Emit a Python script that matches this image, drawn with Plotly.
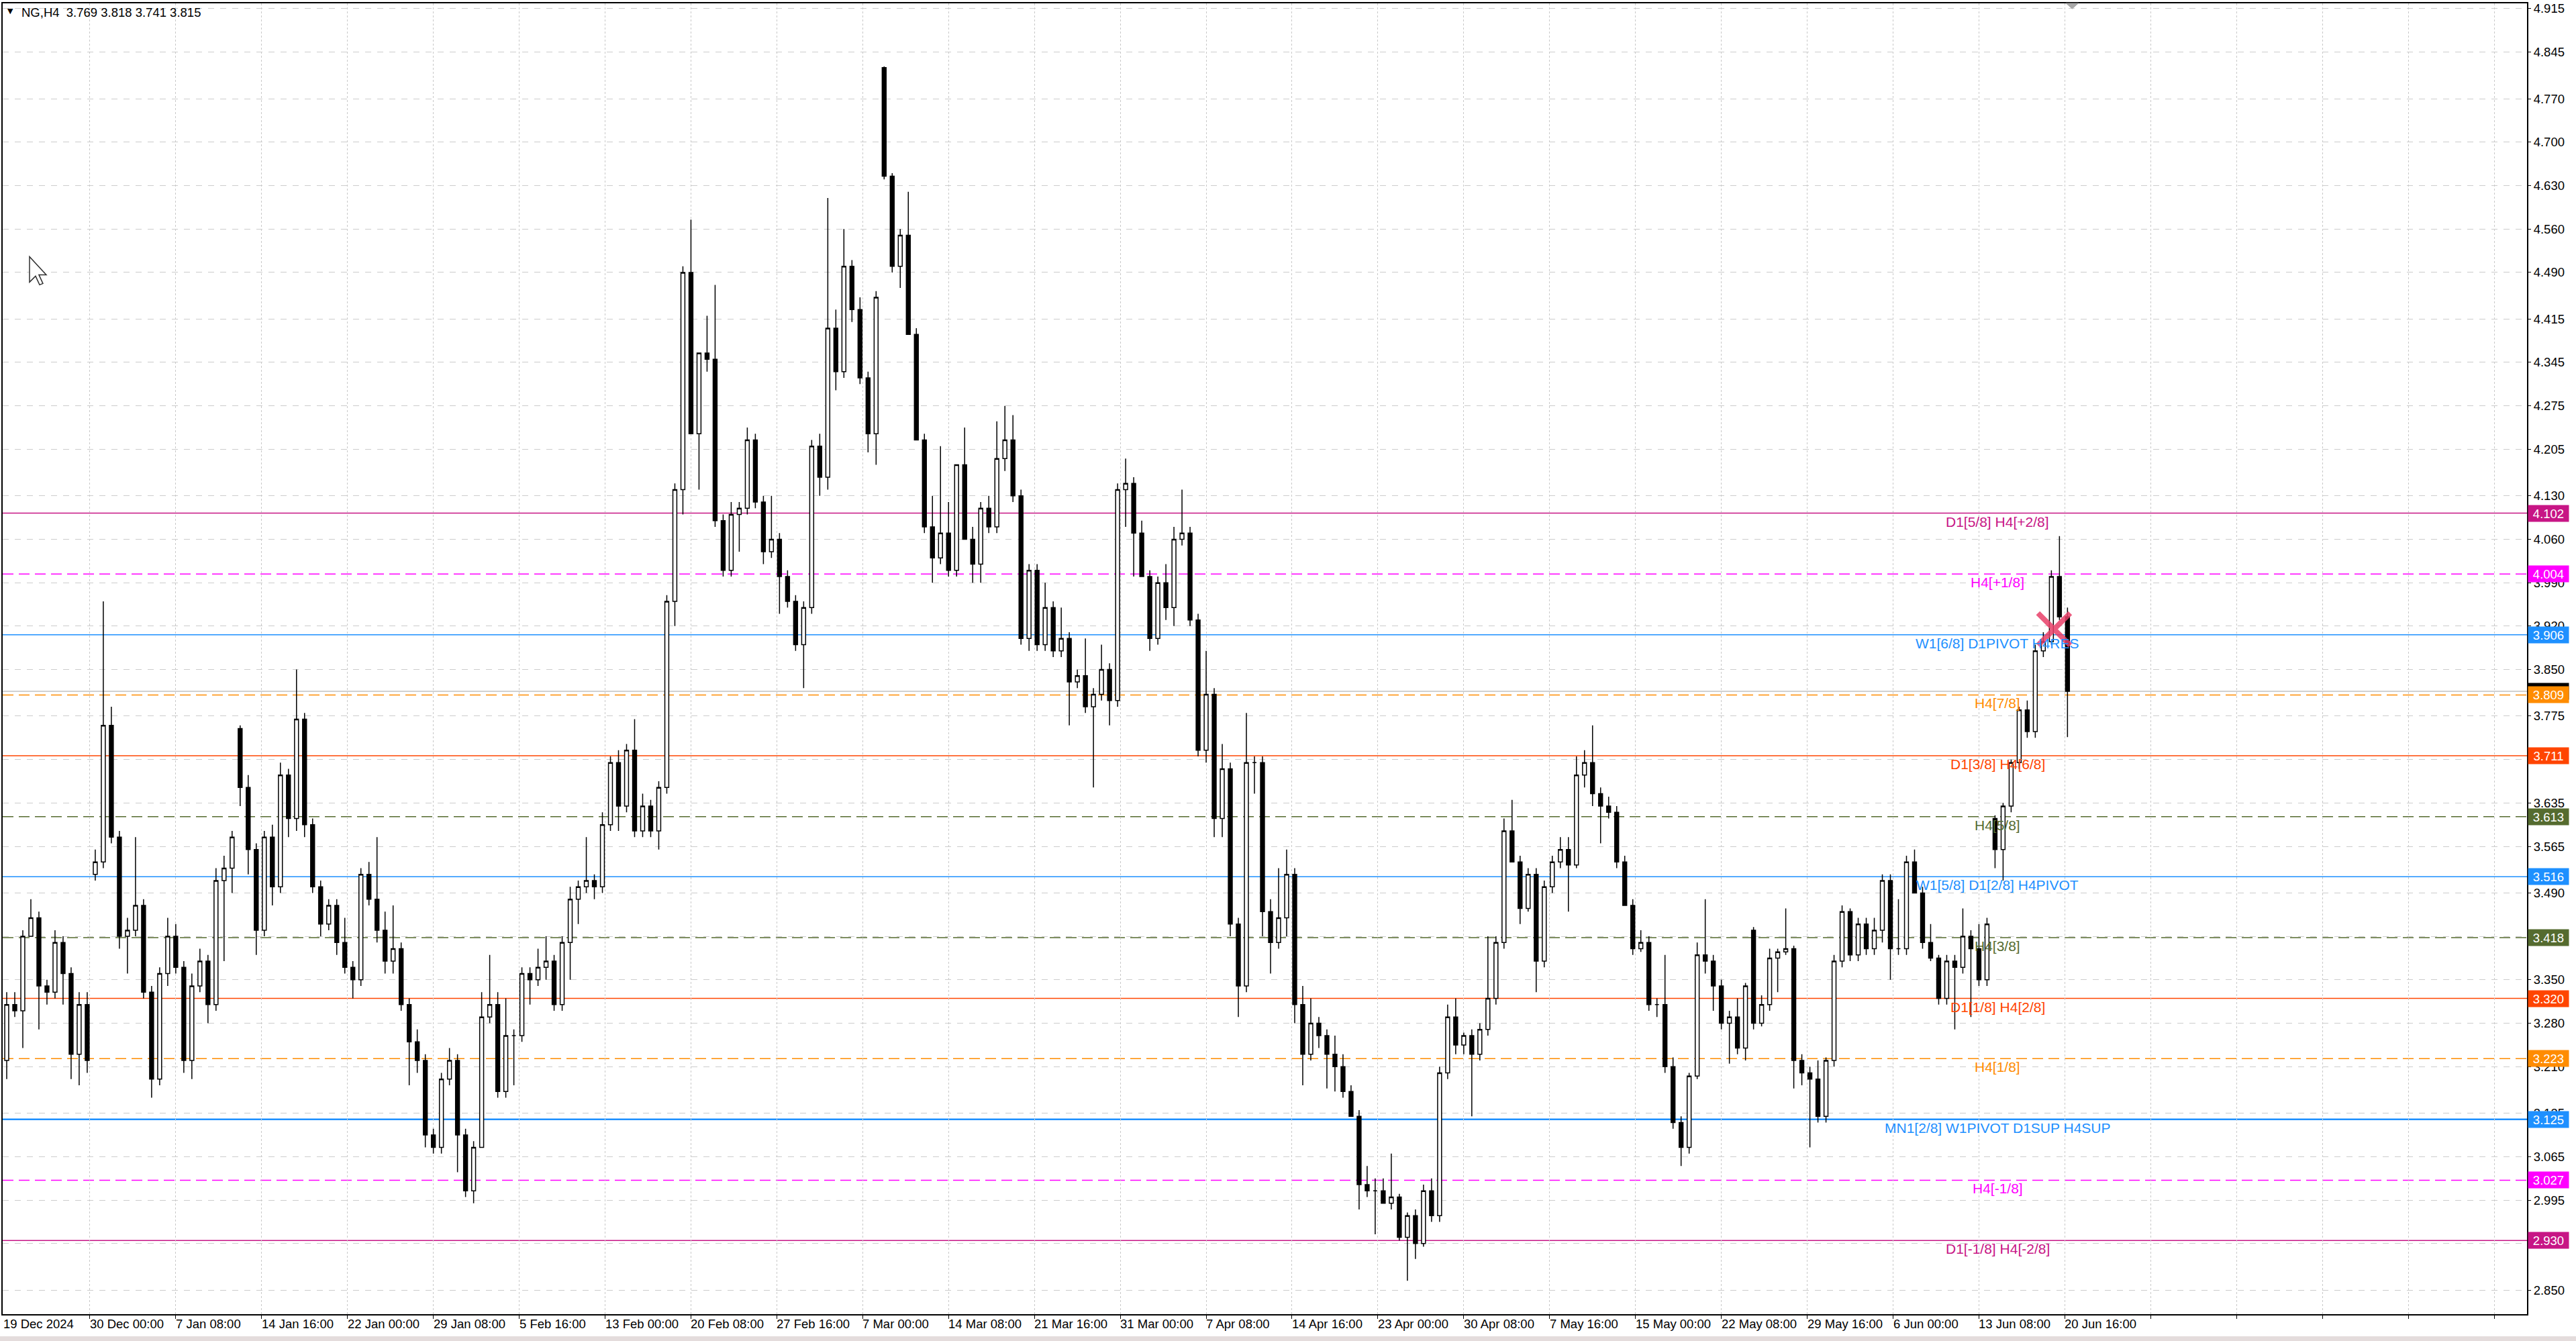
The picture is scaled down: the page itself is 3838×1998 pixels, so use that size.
import plotly.graph_objects as go

# NG, H4 candles (each candle here groups three H4 bars)
opens = [
    3.22, 3.31, 3.30, 3.42, 3.45, 3.34, 3.33, 3.41, 3.36, 3.23,
    3.31, 3.52, 3.54, 3.76, 3.58, 3.42, 3.43, 3.47, 3.33, 3.19,
    3.36, 3.42, 3.37, 3.22, 3.34, 3.38, 3.31, 3.51, 3.53, 3.755,
    3.66, 3.56, 3.43, 3.58, 3.50, 3.68, 3.61, 3.77, 3.60, 3.50,
    3.44, 3.47, 3.41, 3.37, 3.35, 3.52, 3.48, 3.43, 3.38, 3.40,
    3.31, 3.25, 3.22, 3.10, 3.08, 3.19, 3.22, 3.10, 3.01, 3.08,
    3.29, 3.31, 3.17, 3.26, 3.26, 3.36, 3.35, 3.37, 3.38, 3.31,
    3.41, 3.48, 3.50, 3.51, 3.50, 3.60, 3.70, 3.63, 3.72, 3.59,
    3.63, 3.59, 3.66, 3.96, 4.14, 4.49, 4.23, 4.36, 4.35, 4.09,
    4.01, 4.10, 4.11, 4.22, 4.12, 4.04, 4.06, 4.00, 3.96, 3.89,
    3.95, 4.21, 4.16, 4.40, 4.33, 4.50, 4.43, 4.32, 4.23, 4.82,
    4.645, 4.50, 4.55, 4.39, 4.22, 4.08, 4.03, 4.07, 4.01, 4.18,
    4.06, 4.02, 4.11, 4.08, 4.19, 4.22, 4.13, 3.90, 4.01, 3.89,
    3.95, 3.88, 3.90, 3.83, 3.84, 3.79, 3.81, 3.85, 3.80, 4.14,
    4.15, 4.07, 4.00, 3.90, 3.99, 3.95, 4.06, 4.07, 3.93, 3.72,
    3.81, 3.61, 3.69, 3.44, 3.34, 3.70, 3.70, 3.46, 3.41, 3.45,
    3.52, 3.31, 3.23, 3.28, 3.26, 3.23, 3.21, 3.17, 3.13, 3.02,
    3.01, 3.01, 2.99, 3.00, 2.935, 2.97, 2.925, 3.01, 2.97, 3.20,
    3.29, 3.245, 3.26, 3.23, 3.27, 3.32, 3.41, 3.59, 3.54, 3.465,
    3.52, 3.38, 3.50, 3.54, 3.56, 3.535, 3.68, 3.70, 3.65, 3.63,
    3.62, 3.54, 3.47, 3.40, 3.41, 3.31, 3.31, 3.21, 3.12, 3.08,
    3.195, 3.39, 3.38, 3.34, 3.28, 3.29, 3.24, 3.43, 3.28, 3.31,
    3.385, 3.395, 3.40, 3.22, 3.20, 3.19, 3.13, 3.22, 3.38, 3.46,
    3.39, 3.44, 3.40, 3.43, 3.51, 3.40, 3.40, 3.54, 3.49, 3.41,
    3.385, 3.32, 3.38, 3.37, 3.42, 3.40, 3.35, 3.61, 3.56, 3.63,
    3.70, 3.785, 3.75, 3.88, 3.895, 4.00, 3.935,
]
highs = [
    3.33, 3.33, 3.43, 3.48, 3.46, 3.35, 3.43, 3.42, 3.37, 3.33,
    3.33, 3.56, 3.96, 3.79, 3.59, 3.45, 3.58, 3.48, 3.34, 3.37,
    3.45, 3.44, 3.38, 3.36, 3.40, 3.39, 3.53, 3.55, 3.59, 3.76,
    3.68, 3.57, 3.59, 3.60, 3.70, 3.69, 3.85, 3.78, 3.61, 3.51,
    3.48, 3.48, 3.45, 3.38, 3.53, 3.54, 3.58, 3.46, 3.47, 3.41,
    3.32, 3.27, 3.23, 3.11, 3.20, 3.24, 3.23, 3.11, 3.09, 3.33,
    3.39, 3.33, 3.32, 3.27, 3.37, 3.37, 3.40, 3.42, 3.39, 3.42,
    3.50, 3.51, 3.58, 3.52, 3.62, 3.71, 3.72, 3.73, 3.77, 3.65,
    3.64, 3.67, 3.97, 4.15, 4.50, 4.575, 4.36, 4.42, 4.47, 4.10,
    4.12, 4.12, 4.24, 4.23, 4.13, 4.13, 4.07, 4.01, 3.97, 3.96,
    4.22, 4.23, 4.61, 4.43, 4.56, 4.51, 4.45, 4.33, 4.46, 4.822,
    4.65, 4.56, 4.62, 4.40, 4.23, 4.13, 4.21, 4.12, 4.18, 4.24,
    4.08, 4.12, 4.13, 4.25, 4.275, 4.26, 4.14, 4.02, 4.02, 3.99,
    3.96, 3.95, 3.91, 3.85, 3.90, 3.82, 3.89, 3.86, 4.15, 4.19,
    4.16, 4.09, 4.01, 4.00, 4.02, 4.08, 4.14, 4.08, 3.94, 3.88,
    3.82, 3.73, 3.70, 3.45, 3.78, 3.71, 3.71, 3.48, 3.53, 3.56,
    3.53, 3.34, 3.32, 3.29, 3.27, 3.26, 3.23, 3.18, 3.14, 3.05,
    3.03, 3.03, 3.07, 3.005, 2.975, 2.98, 3.02, 3.03, 3.21, 3.31,
    3.32, 3.265, 3.27, 3.28, 3.42, 3.42, 3.61, 3.64, 3.55, 3.53,
    3.53, 3.51, 3.55, 3.58, 3.58, 3.71, 3.72, 3.76, 3.66, 3.645,
    3.63, 3.55, 3.48, 3.43, 3.42, 3.32, 3.39, 3.225, 3.13, 3.20,
    3.41, 3.48, 3.39, 3.35, 3.30, 3.32, 3.345, 3.435, 3.325, 3.40,
    3.40, 3.465, 3.405, 3.23, 3.21, 3.22, 3.225, 3.39, 3.47, 3.465,
    3.45, 3.45, 3.45, 3.52, 3.52, 3.48, 3.55, 3.56, 3.50, 3.44,
    3.39, 3.39, 3.39, 3.465, 3.43, 3.44, 3.45, 3.615, 3.635, 3.705,
    3.79, 3.80, 3.89, 3.91, 4.01, 4.065, 3.95,
]
lows = [
    3.19, 3.29, 3.24, 3.42, 3.27, 3.31, 3.32, 3.31, 3.19, 3.18,
    3.20, 3.51, 3.53, 3.57, 3.40, 3.36, 3.42, 3.32, 3.16, 3.18,
    3.34, 3.36, 3.20, 3.19, 3.33, 3.28, 3.30, 3.38, 3.49, 3.63,
    3.52, 3.39, 3.42, 3.47, 3.49, 3.58, 3.59, 3.58, 3.49, 3.42,
    3.43, 3.39, 3.36, 3.32, 3.34, 3.47, 3.41, 3.36, 3.36, 3.30,
    3.18, 3.20, 3.08, 3.07, 3.07, 3.18, 3.04, 3.00, 2.99, 3.08,
    3.28, 3.16, 3.16, 3.18, 3.25, 3.31, 3.34, 3.35, 3.30, 3.30,
    3.35, 3.44, 3.49, 3.48, 3.49, 3.59, 3.59, 3.62, 3.58, 3.58,
    3.58, 3.56, 3.65, 3.92, 4.10, 4.23, 4.14, 4.33, 4.08, 4.00,
    4.00, 4.04, 4.10, 4.11, 4.02, 4.03, 3.94, 3.95, 3.88, 3.82,
    3.94, 4.13, 4.14, 4.30, 4.32, 4.41, 4.31, 4.20, 4.18, 4.64,
    4.49, 4.465, 4.39, 4.22, 4.07, 3.99, 4.02, 4.00, 4.00, 4.06,
    3.99, 3.99, 4.07, 4.07, 4.17, 4.12, 3.89, 3.88, 3.88, 3.88,
    3.87, 3.87, 3.76, 3.82, 3.78, 3.66, 3.80, 3.76, 3.79, 4.08,
    4.00, 4.00, 3.88, 3.89, 3.93, 3.92, 4.05, 3.92, 3.71, 3.70,
    3.58, 3.58, 3.42, 3.29, 3.33, 3.65, 3.42, 3.36, 3.40, 3.42,
    3.28, 3.18, 3.22, 3.24, 3.175, 3.17, 3.16, 3.13, 2.98, 3.00,
    2.94, 2.99, 2.98, 2.93, 2.865, 2.90, 2.92, 2.96, 2.96, 3.19,
    3.23, 3.23, 3.13, 3.22, 3.26, 3.31, 3.40, 3.54, 3.44, 3.46,
    3.33, 3.37, 3.49, 3.53, 3.46, 3.53, 3.66, 3.63, 3.57, 3.61,
    3.53, 3.47, 3.39, 3.395, 3.30, 3.29, 3.20, 3.11, 3.05, 3.07,
    3.19, 3.36, 3.30, 3.27, 3.215, 3.23, 3.22, 3.27, 3.275, 3.30,
    3.33, 3.39, 3.175, 3.18, 3.08, 3.12, 3.12, 3.21, 3.37, 3.38,
    3.38, 3.39, 3.39, 3.41, 3.35, 3.39, 3.39, 3.49, 3.40, 3.38,
    3.31, 3.31, 3.27, 3.36, 3.29, 3.34, 3.34, 3.53, 3.51, 3.62,
    3.69, 3.74, 3.74, 3.87, 3.89, 3.93, 3.741,
]
closes = [
    3.31, 3.30, 3.42, 3.45, 3.34, 3.33, 3.41, 3.36, 3.23, 3.31,
    3.22, 3.54, 3.76, 3.58, 3.42, 3.43, 3.47, 3.33, 3.19, 3.36,
    3.42, 3.37, 3.22, 3.34, 3.38, 3.31, 3.51, 3.53, 3.58, 3.66,
    3.56, 3.43, 3.58, 3.50, 3.68, 3.61, 3.77, 3.60, 3.50, 3.44,
    3.47, 3.41, 3.37, 3.35, 3.52, 3.48, 3.43, 3.38, 3.40, 3.31,
    3.25, 3.22, 3.10, 3.08, 3.19, 3.22, 3.10, 3.01, 3.08, 3.29,
    3.31, 3.17, 3.26, 3.26, 3.36, 3.35, 3.37, 3.38, 3.31, 3.41,
    3.48, 3.50, 3.51, 3.50, 3.60, 3.70, 3.63, 3.72, 3.59, 3.63,
    3.59, 3.66, 3.96, 4.14, 4.49, 4.23, 4.36, 4.35, 4.09, 4.01,
    4.10, 4.11, 4.22, 4.12, 4.04, 4.06, 4.00, 3.96, 3.89, 3.95,
    4.21, 4.16, 4.40, 4.33, 4.50, 4.43, 4.32, 4.23, 4.45, 4.645,
    4.50, 4.55, 4.39, 4.22, 4.08, 4.03, 4.07, 4.01, 4.18, 4.06,
    4.02, 4.11, 4.08, 4.19, 4.22, 4.13, 3.90, 4.01, 3.89, 3.95,
    3.88, 3.90, 3.83, 3.84, 3.79, 3.81, 3.85, 3.80, 4.14, 4.15,
    4.07, 4.00, 3.90, 3.99, 3.95, 4.06, 4.07, 3.93, 3.72, 3.81,
    3.61, 3.69, 3.44, 3.34, 3.70, 3.70, 3.46, 3.41, 3.45, 3.52,
    3.31, 3.23, 3.28, 3.26, 3.23, 3.21, 3.17, 3.13, 3.02, 3.01,
    3.01, 2.99, 3.00, 2.935, 2.97, 2.925, 3.01, 2.97, 3.20, 3.29,
    3.245, 3.26, 3.23, 3.27, 3.32, 3.41, 3.59, 3.54, 3.465, 3.52,
    3.38, 3.50, 3.54, 3.56, 3.535, 3.68, 3.70, 3.65, 3.63, 3.62,
    3.54, 3.47, 3.40, 3.41, 3.31, 3.31, 3.21, 3.12, 3.08, 3.195,
    3.39, 3.38, 3.34, 3.28, 3.29, 3.24, 3.34, 3.28, 3.31, 3.385,
    3.395, 3.40, 3.22, 3.20, 3.19, 3.13, 3.22, 3.38, 3.46, 3.39,
    3.44, 3.40, 3.43, 3.51, 3.40, 3.40, 3.54, 3.49, 3.41, 3.385,
    3.32, 3.38, 3.37, 3.42, 3.40, 3.35, 3.44, 3.56, 3.63, 3.70,
    3.785, 3.75, 3.88, 3.895, 4.00, 3.935, 3.815,
]
assert len(opens) == len(highs) == len(lows) == len(closes)

# bar index of each candle (one candle every 3 H4 bars)
bar_x = list(range(1, 1 + 3 * len(opens), 3))

# time axis: label every 32 bars
time_labels = [
    "19 Dec 2024", "30 Dec 00:00", "7 Jan 08:00", "14 Jan 16:00", "22 Jan 00:00",
    "29 Jan 08:00", "5 Feb 16:00", "13 Feb 00:00", "20 Feb 08:00", "27 Feb 16:00",
    "7 Mar 00:00", "14 Mar 08:00", "21 Mar 16:00", "31 Mar 00:00", "7 Apr 08:00",
    "14 Apr 16:00", "23 Apr 00:00", "30 Apr 08:00", "7 May 16:00", "15 May 00:00",
    "22 May 08:00", "29 May 16:00", "6 Jun 00:00", "13 Jun 08:00", "20 Jun 16:00",
]
bars_per_label = 32
grid_count = 29

# price axis labels (the ones hidden under level boxes are left blank)
price_ticks = [4.915, 4.845, 4.770, 4.700, 4.630, 4.560, 4.490, 4.415, 4.345, 4.275,
               4.205, 4.130, 4.060, 3.990, 3.920, 3.850, 3.775, 3.705, 3.635, 3.565,
               3.490, 3.420, 3.350, 3.280, 3.210, 3.135, 3.065, 2.995, 2.925, 2.850]
hidden_ticks = [3.705, 3.420, 2.925]

# Murrey / pivot levels
level_prices = [4.102, 4.004, 3.906, 3.809, 3.711, 3.613, 3.516,
                3.418, 3.320, 3.223, 3.125, 3.027, 2.930]
level_names = ["D1[5/8] H4[+2/8]", "H4[+1/8]", "W1[6/8] D1PIVOT H4RES", "H4[7/8]",
               "D1[3/8] H4[6/8]", "H4[5/8]", "W1[5/8] D1[2/8] H4PIVOT", "H4[3/8]",
               "D1[1/8] H4[2/8]", "H4[1/8]", "MN1[2/8] W1PIVOT D1SUP H4SUP",
               "H4[-1/8]", "D1[-1/8] H4[-2/8]"]
level_colors = ["#C71585", "#FF00FF", "#1E90FF", "#FF8C00", "#FF4500", "#556B2F",
                "#1E90FF", "#556B2F", "#FF4500", "#FF8C00", "#1E90FF", "#FF00FF", "#C71585"]
level_dashed = [False, True, False, True, False, True, False,
                True, False, True, False, True, False]

last_price = 3.815
title_text = "NG,H4\u00a0\u00a03.769 3.818 3.741 3.815"

# the cross drawn on the chart
cross_x = [764]
cross_y = [3.915]

W, H = 3838, 1998
ML, MR, MT, MB = 2, 73, 2, 40
PW, PH = W - ML - MR, H - MT - MB
FONT = "Liberation Sans"


def px_to_paper(px, py):
    return (px - ML) / PW, 1 - (py - MT) / PH


fig = go.Figure()

fig.add_trace(go.Candlestick(
    x=bar_x, open=opens, high=highs, low=lows, close=closes,
    increasing=dict(line=dict(color="black", width=1.5), fillcolor="white"),
    decreasing=dict(line=dict(color="black", width=1.5), fillcolor="black"),
    whiskerwidth=0, hoverinfo="skip", showlegend=False,
))

fig.add_trace(go.Scatter(
    x=cross_x, y=cross_y, mode="markers", showlegend=False, hoverinfo="skip",
    marker=dict(symbol="x-thin", size=48,
                line=dict(width=8, color="rgba(232,64,105,0.85)")),
))

shapes = []
annotations = []

# current price line
shapes.append(dict(type="line", xref="paper", x0=0, x1=1, yref="y",
                   y0=last_price, y1=last_price, layer="between",
                   line=dict(color="#c0c0c0", width=1.5)))

for price, name, color, dashed in zip(level_prices, level_names, level_colors, level_dashed):
    width = 2.5 if price == 3.125 else 1.5
    shapes.append(dict(type="line", xref="paper", x0=0, x1=1, yref="y",
                       y0=price, y1=price, layer="between",
                       line=dict(color=color, width=width,
                                 dash="16px,8px" if dashed else "solid")))
    annotations.append(dict(x=743, xref="x", y=price, yref="y", text=name,
                            showarrow=False, xanchor="center", yanchor="top", yshift=1,
                            font=dict(family=FONT, size=21, color=color)))

# price boxes on the right axis
box_prices = [last_price] + level_prices
box_colors = ["black"] + level_colors
for price, color in zip(box_prices, box_colors):
    annotations.append(dict(x=1, xref="paper", y=price, yref="y", text=f"{price:.3f}",
                            showarrow=False, xanchor="left", yanchor="middle", xshift=1,
                            bgcolor=color, width=58, height=22, borderpad=1, align="center",
                            font=dict(family=FONT, size=18.5, color="white")))

# time labels, left-aligned at their grid lines
for k, lab in enumerate(time_labels):
    annotations.append(dict(x=k * bars_per_label, xref="x", y=0, yref="paper", text=lab,
                            showarrow=False, xanchor="left", yanchor="top",
                            xshift=-3 if k == 0 else -2, yshift=-2,
                            font=dict(family=FONT, size=18.5, color="black")))

# header
annotations.append(dict(x=0, xref="paper", y=1, yref="paper", text="\u25BC",
                        showarrow=False, xanchor="left", yanchor="top", xshift=5, yshift=-3,
                        font=dict(family="DejaVu Sans", size=11, color="black")))
annotations.append(dict(x=0, xref="paper", y=1, yref="paper", text=title_text,
                        showarrow=False, xanchor="left", yanchor="top", xshift=26, yshift=-1,
                        font=dict(family=FONT, size=18.5, color="black")))

# mouse pointer left on the chart
cursor_px = [(42, 380), (42, 418), (51, 409), (57, 422), (62, 420), (56, 407), (67, 407)]
pts = [px_to_paper(a, b) for a, b in cursor_px]
path = "M " + " L ".join(f"{a:.5f},{b:.5f}" for a, b in pts) + " Z"
shapes.append(dict(type="path", xref="paper", yref="paper", path=path,
                   fillcolor="white", line=dict(color="#303030", width=1.5), layer="above"))

# chart shift marker on top edge
tri = [px_to_paper(3078, 2), px_to_paper(3096, 2), px_to_paper(3087, 10)]
shapes.append(dict(type="path", xref="paper", yref="paper",
                   path="M " + " L ".join(f"{a:.5f},{b:.5f}" for a, b in tri) + " Z",
                   fillcolor="#a8a8a8", line=dict(color="#a8a8a8", width=1), layer="above"))

# window strip at the very bottom
y0p = px_to_paper(0, 1998)[1]
y1p = px_to_paper(0, 1991)[1]
shapes.append(dict(type="rect", xref="paper", yref="paper", x0=-0.01, x1=1.02,
                   y0=y0p, y1=y1p, fillcolor="#e4dcdc", line=dict(width=0), layer="above"))

y_top = 4.915 + 8 * 0.00108
y_bot = y_top - PH * 0.00108

fig.update_layout(
    width=W, height=H,
    margin=dict(l=ML, r=MR, t=MT, b=MB),
    paper_bgcolor="white", plot_bgcolor="white",
    showlegend=False,
    shapes=shapes, annotations=annotations,
    xaxis=dict(
        range=[-0.5, (W - MR - 4) / 4],
        tickvals=[bars_per_label * k for k in range(1, grid_count + 1)],
        showticklabels=False, ticks="outside", ticklen=5, tickcolor="black",
        showgrid=True, gridcolor="#c8c8c8", griddash="dot", gridwidth=1.2,
        showline=True, mirror=True, linecolor="black", linewidth=2,
        zeroline=False, rangeslider=dict(visible=False), fixedrange=True,
    ),
    yaxis=dict(
        range=[y_bot, y_top], side="right",
        tickvals=price_ticks,
        ticktext=["" if v in hidden_ticks else f"{v:.3f}" for v in price_ticks],
        ticks="outside", ticklen=4, tickcolor="black", ticklabeloverflow="allow",
        tickfont=dict(family=FONT, size=18.5, color="black"),
        showgrid=True, gridcolor="#cccccc", griddash="dash", gridwidth=1,
        showline=True, mirror=True, linecolor="black", linewidth=2,
        zeroline=False, fixedrange=True,
    ),
)

fig.write_html("out.html", config={"displayModeBar": False},
               post_script="document.body.style.margin='0px';")
